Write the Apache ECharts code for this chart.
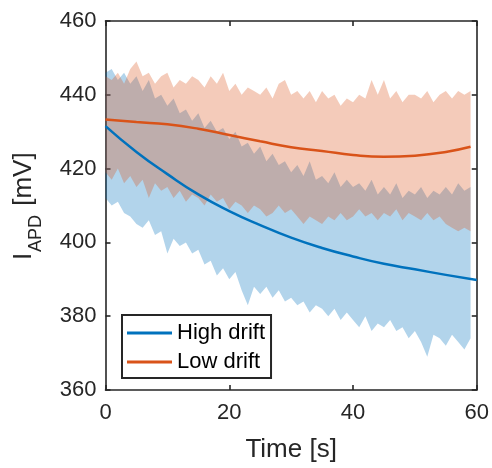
<!DOCTYPE html>
<html><head><meta charset="utf-8">
<script src="https://cdn.jsdelivr.net/npm/echarts@6/dist/echarts.min.js"></script>
<style>html,body{margin:0;padding:0;background:#fff}#c{width:492px;height:468px}</style>
</head><body><div id="c"></div>
<script>
// ---- data ----
const bandTime = [0,1,2,3,4,5,6,7,8,9,10,11,12,13,14,15,16,17,18,19,20,21,22,23,24,25,26,27,28,29,30,31,32,33,34,35,36,37,38,39,40,41,42,43,44,45,46,47,48,49,50,51,52,53,54,55,56,57,58,59];
const highUpper = [446,447,444,446,443,445,441,444,439,440,437,439,435,436,433,435,431,433,430,431,428,430,426,427,424,426,422,424,421,422,419,421,418,422,417,418,416,419,415,417,415,416,414,417,413,415,413,416,412,414,413,415,412,414,413,415,413,416,414,415];
const highLower = [412,410,411,408,407,405,404,406,402,403,397,401,399,400,397,398,394,395,391,393,390,392,387,383,388,386,388,385,387,384,385,383,384,381,383,382,380,382,379,381,379,377,380,376,378,377,379,376,377,374,376,373,369,375,374,372,375,373,371,374];
const lowUpper = [445,444,446,443,447,449,445,446,443,445,446,442,444,443,445,444,442,445,443,446,441,443,440,442,441,440,442,439,443,444,440,441,439,441,438,441,439,440,437,439,438,440,439,444,440,444,439,441,438,440,440,439,441,438,440,441,439,441,440,441];
const lowLower = [419,417,420,416,418,415,417,412,416,414,415,412,414,411,413,412,410,413,411,412,409,411,410,408,410,409,407,408,410,408,409,407,405,407,406,405,407,406,408,406,407,409,407,408,406,408,407,409,406,408,407,406,408,406,407,405,404,403,404,403];
const highLineTime = [0,5,10,15,20,25,30,35,40,45,50,55,60];
const highLine = [431.5,424.5,418.5,413,408.5,404.7,401.3,398.5,396.2,394.2,392.7,391.2,389.8];
const lowLineTime = [0,5,10,15,20,25,30,35,40,45,50,55,59];
const lowLine = [433.3,432.6,432,430.8,429.1,427.4,425.8,424.8,423.7,423.2,423.5,424.5,425.9];
const seriesNames = ['High drift','Low drift'];
const xTitle = 'Time [s]';

// ---- styling ----
const FONT = '"Liberation Sans", Arial, Helvetica, sans-serif';
const AX = '#262626';
const BLUE = '#0072BD', ORANGE = '#D95319';

function bandRenderer(upper, lower, color) {
  return function (params, api) {
    const pts = [];
    for (let i = 0; i < bandTime.length; i++) pts.push(api.coord([bandTime[i], upper[i]]));
    for (let i = bandTime.length - 1; i >= 0; i--) pts.push(api.coord([bandTime[i], lower[i]]));
    return { type: 'polygon', shape: { points: pts }, style: { fill: color } };
  };
}
function zip(a, b) { return a.map((v, i) => [v, b[i]]); }

const chart = echarts.init(document.getElementById('c'), null, { renderer: 'canvas' });
function axisCommon() {
  return {
    axisLine: { show: true, onZero: false, lineStyle: { color: AX, width: 1.6 } },
    axisTick: { show: true, inside: true, length: 5, lineStyle: { color: AX, width: 1.6 } },
    splitLine: { show: false }
  };
}
chart.setOption({
  animation: false,
  backgroundColor: '#fff',
  grid: { left: 105.5, right: 12.5, top: 21, bottom: 74.5, containLabel: false },
  xAxis: [
    Object.assign({ type: 'value', min: 0, max: 60, interval: 20, position: 'bottom',
      axisLabel: { color: AX, fontSize: 22, fontFamily: FONT, margin: 12 },
      name: xTitle, nameLocation: 'middle', nameGap: 47,
      nameTextStyle: { color: AX, fontSize: 26, fontFamily: FONT } }, axisCommon()),
    Object.assign({ type: 'value', min: 0, max: 60, interval: 20, position: 'top',
      axisLabel: { show: false } }, axisCommon())
  ],
  yAxis: [
    Object.assign({ type: 'value', min: 360, max: 460, interval: 20, position: 'left',
      axisLabel: { color: AX, fontSize: 22, fontFamily: FONT, margin: 9 } }, axisCommon()),
    Object.assign({ type: 'value', min: 360, max: 460, interval: 20, position: 'right',
      axisLabel: { show: false } }, axisCommon())
  ],
  legend: {
    data: seriesNames,
    orient: 'vertical', left: 122, top: 315,
    icon: 'rect', itemWidth: 45, itemHeight: 3, itemGap: 5,
    padding: [6, 6, 4, 5],
    backgroundColor: '#fff', borderColor: AX, borderWidth: 2, borderRadius: 0,
    textStyle: { color: '#000', fontSize: 22, fontFamily: FONT, lineHeight: 24 }
  },
  graphic: [{
    type: 'group', x: 24, y: 260, rotation: Math.PI / 2,
    children: [
      { type: 'text', x: 0, y: 0, style: { text: 'I', fontSize: 26, fontFamily: FONT, fill: AX, verticalAlign: 'middle', align: 'left' } },
      { type: 'text', x: 8, y: 12, style: { text: 'APD', fontSize: 18, fontFamily: FONT, fill: AX, verticalAlign: 'middle', align: 'left' } },
      { type: 'text', x: 47, y: 0, style: { text: ' [mV]', fontSize: 26, fontFamily: FONT, fill: AX, verticalAlign: 'middle', align: 'left' } }
    ]
  }],
  series: [
    { type: 'custom', name: 'highBand', xAxisIndex: 0, yAxisIndex: 0, data: [[0, 400]],
      renderItem: bandRenderer(highUpper, highLower, 'rgba(0,114,189,0.3)'), silent: true, z: 1 },
    { type: 'custom', name: 'lowBand', xAxisIndex: 0, yAxisIndex: 0, data: [[0, 420]],
      renderItem: bandRenderer(lowUpper, lowLower, 'rgba(217,83,25,0.3)'), silent: true, z: 2 },
    { type: 'line', name: seriesNames[0], data: zip(highLineTime, highLine), smooth: true,
      showSymbol: false, lineStyle: { color: BLUE, width: 2.5 }, itemStyle: { color: BLUE }, z: 3 },
    { type: 'line', name: seriesNames[1], data: zip(lowLineTime, lowLine), smooth: true,
      showSymbol: false, lineStyle: { color: ORANGE, width: 2.5 }, itemStyle: { color: ORANGE }, z: 4 }
  ]
});
</script>
</body></html>
